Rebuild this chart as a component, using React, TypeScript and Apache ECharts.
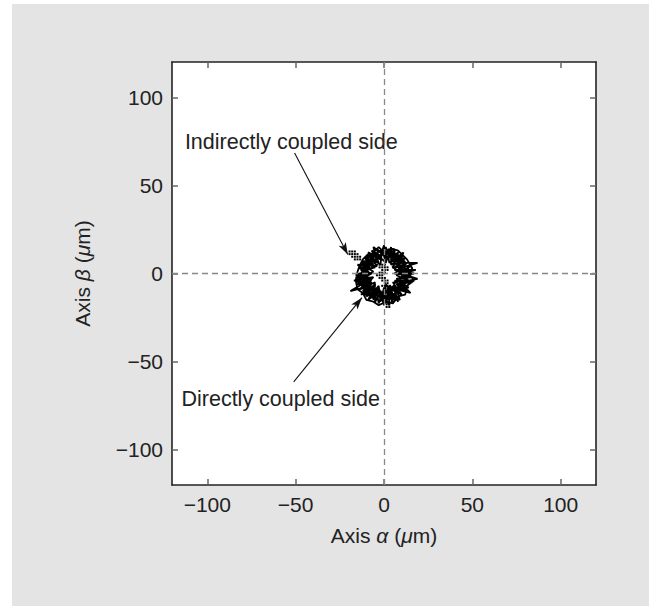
import React, { useEffect, useRef } from "react";
import * as echarts from "echarts";

// Axis range and tick positions (µm)
const axisMin = -120;
const axisMax = 120;
const axisTicks = [-100, -50, 0, 50, 100];

// Measured orbit of the shaft centre (α, β) in µm
const orbitPath: number[][] = [
  [-8, 2], [-11, 6], [-6, 8], [-9, 12], [-3, 9], [-4, 14], [0, 10], [3, 14], [4, 9], [8, 12],
  [7, 7], [12, 9], [8, 4], [15, 4], [9, 1], [17, 0], [10, -1], [13, -4], [8, -4], [14, -8],
  [7, -8], [10, -12], [4, -9], [6, -15], [2, -11], [1, -17], [-2, -11], [-5, -16], [-5, -10], [-10, -13],
  [-7, -7], [-14, -9], [-9, -5], [-17, -4], [-10, -2], [-13, 2], [-8, 3],
  [-12, 7], [-7, 7], [-8, 11], [-2, 8], [-1, 13], [2, 8], [6, 13], [5, 7], [10, 10],
  [8, 3], [13, 6], [8, 1], [16, -2], [9, -3], [12, -7], [7, -6], [11, -10], [4, -8], [4, -14],
  [0, -9], [-1, -15], [-4, -9], [-7, -14], [-7, -8], [-12, -10], [-8, -6], [-15, -6], [-8, -3], [-14, 0],
  [-8, 0], [-12, 4],
  [-6, 5], [-10, 10], [-5, 11], [-6, 15], [-1, 11], [1, 15], [3, 10], [6, 14], [6, 8], [11, 12],
  [9, 6], [19, 6], [9, 3], [14, 1], [10, 0], [19, -3], [9, -5], [15, -11], [7, -9], [9, -15],
  [3, -10], [3, -18], [-1, -11], [-3, -17], [-4, -11], [-9, -15], [-6, -9], [-13, -12], [-8, -7], [-19, -10],
  [-9, -4], [-15, -2], [-9, 1], [-15, 5], [-8, 4],
  [-9, 8], [-4, 8], [-7, 13], [-2, 10], [0, 16], [1, 9], [5, 12], [4, 8], [9, 9], [7, 5],
  [12, 7], [8, 2], [14, 3], [9, 0], [15, -5], [8, -6], [12, -9], [6, -8], [7, -13], [2, -9],
  [2, -15], [-2, -10], [-4, -15], [-6, -11], [-11, -12], [-7, -5], [-13, -7], [-9, -2], [-16, -1], [-9, 2],
  [-12, 6], [-7, 6], [-10, 9], [-5, 10], [-3, 13], [1, 12], [4, 13], [7, 10], [10, 8], [12, 4],
  [11, 1], [13, -2], [11, -6], [9, -10], [5, -12], [1, -13], [-3, -13], [-7, -12], [-10, -9], [-12, -5],
  [-12, -1], [-11, 3], [-8, 6],
  [-5, 3], [-10, 8], [-3, 6], [-5, 12], [0, 7], [2, 13], [3, 6], [8, 11], [5, 3], [12, 5],
  [6, 0], [14, -1], [7, -3], [12, -6], [5, -5], [9, -11], [3, -7], [5, -16], [0, -8], [-2, -16],
  [-3, -7], [-8, -13], [-5, -5], [-12, -8], [-6, -2], [-14, -3], [-6, 1], [-13, 6], [-4, 4],
  [-8, 10], [-2, 5], [-1, 14], [1, 6], [4, 15], [4, 5], [10, 9], [6, 2], [18, 2], [7, -1],
  [16, -5], [6, -4], [13, -10], [5, -7], [8, -16], [1, -6], [0, -18], [-3, -8], [-6, -15], [-5, -6],
  [-11, -11], [-7, -3], [-16, -5], [-7, 0], [-14, 3], [-6, 3], [-11, 9], [-5, 7],
  [-7, 11], [-3, 15], [0, 12], [5, 14], [8, 13], [10, 11], [13, 8], [16, 3], [14, 0], [17, -4],
  [13, -7], [12, -12], [8, -13], [5, -17], [1, -16], [-3, -18], [-6, -16], [-10, -15], [-12, -11], [-15, -9],
  [-16, -4], [-15, 1], [-14, 4], [-12, 8], [-9, 11]
];

// Individually sampled positions drawn as dots
const samplePoints: number[][] = [
  [-19.5, 12.5], [-18, 12.5], [-16.5, 12.5], [-19.5, 11], [-18, 11], [-16.5, 11], [-15, 11],
  [-18, 9.5], [-16.5, 9.5], [-15, 9.5], [-13.5, 9.5], [-16.5, 8], [-15, 8], [-13.5, 8],
  [-4, 5], [-2.5, 5], [-1, 5], [0.5, 5], [-2.5, 3.5], [-1, 3.5], [0.5, 3.5], [2, 3.5],
  [-1, 2], [0.5, 2], [2, 2], [-2.5, 0.5], [-1, 0.5], [0.5, 0.5], [-4, -1], [-2.5, -1], [-1, -1],
  [-2.5, -2.5], [-1, -2.5], [0.5, -2.5], [-1, -4], [0.5, -4], [2, -4], [0.5, -5.5], [2, -5.5],
  [-1, -7], [0.5, -7], [2, -7], [3.5, -7], [0.5, -8.5], [2, -8.5],
  [0, -13], [1.5, -13], [3, -13], [1.5, -14.5], [3, -14.5], [4.5, -14.5], [0, -16], [1.5, -16],
  [3, -16], [4.5, -16], [1.5, -17.5], [3, -17.5], [1.5, -19], [3, -19],
  [5, 7], [6.5, 7], [5, 5.5], [6.5, 5.5], [8, 5.5], [5, 4], [6.5, 4],
  [-15, -1], [-13.5, -1], [-15, -2.5], [-13.5, -2.5], [-12, -2.5], [-13.5, -4], [-12, -4]
];

// Callout texts, their anchor points and arrow end points (µm)
const noteTexts = ["Indirectly coupled side", "Directly coupled side"];
const noteAnchors: number[][] = [[-52.5, 74.5], [-58.5, -71]];
const arrowStarts: number[][] = [[-50.6, 68.4], [-51.1, -61.5]];
const arrowTips: number[][] = [[-20.5, 10.8], [-12.5, -13.7]];

const FONT = "'Liberation Sans', Arial, sans-serif";
const TEXT_COLOR = "#222222";

const fmtTick = (v: number) => (v < 0 ? "\u2212" + Math.abs(v) : String(v));

export default function App() {
  const ref = useRef<HTMLDivElement>(null);

  useEffect(() => {
    if (!ref.current) return;
    const chart = echarts.init(ref.current, undefined, { renderer: "svg" });

    const frameAxis = (position: string, showLabels: boolean) => ({
      type: "value",
      position,
      min: axisMin,
      max: axisMax,
      axisLine: { show: true, onZero: false, lineStyle: { color: "#222", width: 1.6 } },
      axisTick: {
        show: true,
        inside: true,
        length: 6,
        customValues: axisTicks,
        lineStyle: { color: "#666", width: 1.5 },
      },
      axisLabel: {
        show: showLabels,
        customValues: axisTicks,
        formatter: fmtTick,
        color: TEXT_COLOR,
        fontSize: 21,
        fontFamily: FONT,
        margin: 9,
      },
      splitLine: { show: false },
    });

    const nameRich = {
      n: { fontSize: 21, fontFamily: FONT, color: TEXT_COLOR },
      i: { fontSize: 21, fontFamily: FONT, color: TEXT_COLOR, fontStyle: "italic" },
    };

    chart.setOption({
      animation: false,
      grid: {
        left: 172,
        top: 62,
        right: 53,
        bottom: 121,
        show: true,
        backgroundColor: "#ffffff",
        borderWidth: 0,
      },
      xAxis: [
        {
          ...frameAxis("bottom", true),
          name: "{n|Axis }{i|\u03b1}{n| (}{i|\u03bc}{n|m)}",
          nameLocation: "middle",
          nameGap: 40,
          nameTextStyle: { rich: nameRich },
        },
        frameAxis("top", false),
      ],
      yAxis: [
        {
          ...frameAxis("left", true),
          name: "{n|Axis }{i|\u03b2}{n| (}{i|\u03bc}{n|m)}",
          nameLocation: "middle",
          nameGap: 79,
          nameTextStyle: { rich: nameRich },
        },
        frameAxis("right", false),
      ],
      series: [
        {
          name: "guides",
          type: "scatter",
          data: noteAnchors,
          symbolSize: 0,
          z: 1,
          itemStyle: { opacity: 1 },
          label: {
            show: true,
            position: "inside",
            formatter: (p: any) => noteTexts[p.dataIndex],
            color: TEXT_COLOR,
            fontSize: 21.5,
            fontFamily: FONT,
            textBorderWidth: 0,
          },
          markLine: {
            silent: true,
            symbol: "none",
            label: { show: false },
            lineStyle: { color: "#888", type: [6, 4], width: 1.3 },
            data: [{ xAxis: 0 }, { yAxis: 0 }],
          },
        },
        {
          name: "orbit",
          type: "line",
          data: orbitPath,
          showSymbol: false,
          z: 3,
          lineStyle: { color: "#000", width: 1.8 },
        },
        {
          name: "samples",
          type: "scatter",
          data: samplePoints,
          symbol: "rect",
          symbolSize: 2,
          z: 4,
          itemStyle: { color: "#000", opacity: 1 },
        },
        {
          name: "callouts",
          type: "line",
          data: [],
          z: 5,
          markLine: {
            silent: true,
            label: { show: false },
            lineStyle: { color: "#111", type: "solid", width: 1.1 },
            data: arrowStarts.map((s, k) => [
              { coord: s, symbol: "none" },
              { coord: arrowTips[k], symbol: "arrow", symbolSize: [6, 12] },
            ]),
          },
        },
      ],
    });

    return () => chart.dispose();
  }, []);

  return (
    <div style={{ position: "absolute", left: 0, top: 0, width: 649, height: 606, background: "#fff" }}>
      <div
        style={{ position: "absolute", left: 12, top: 4, width: 637, height: 602, background: "#e4e4e4" }}
      />
      <div ref={ref} style={{ position: "absolute", left: 0, top: 0, width: 649, height: 606 }} />
    </div>
  );
}
